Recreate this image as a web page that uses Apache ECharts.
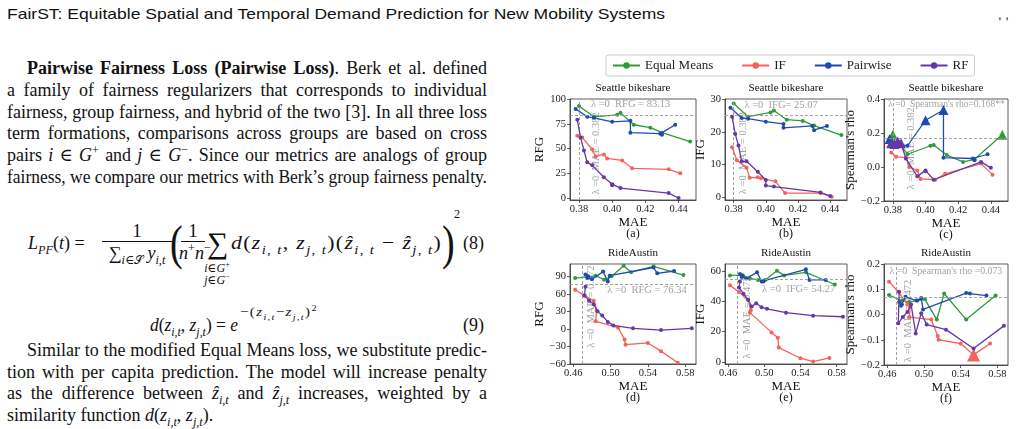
<!DOCTYPE html>
<html>
<head>
<meta charset="utf-8">
<script src="https://cdn.jsdelivr.net/npm/echarts/dist/echarts.min.js"></script>
<style>
  body { margin: 0; width: 1017px; height: 429px; background: #fff; overflow: hidden; position: relative; color: #111; }
  .t { position: absolute; white-space: nowrap; font-family: 'Liberation Serif', 'DejaVu Serif', serif; font-size: 18px; line-height: 22px; }
  .m { position: absolute; white-space: nowrap; font-family: 'Liberation Serif', 'DejaVu Serif', serif; font-size: 18px; line-height: 20px; }
  .s { font-size: 12px; line-height: 14px; }
  sub, sup { font-size: 0.68em; line-height: 0; }
  .bar { position: absolute; height: 1px; background: #111; }
  .paren { font-size: 38px !important; line-height: 40px !important; transform: scaleY(1.3); transform-origin: center; }
  #head { position: absolute; left: 7px; top: 5px; font-family: 'Liberation Sans', sans-serif; font-size: 15px; line-height: 18px; white-space: nowrap; }
  #chart { position: absolute; left: 530px; top: 40px; width: 487px; height: 389px; }
</style>
</head>
<body>
<div id="head" data-w="658" data-f="sc">FairST: Equitable Spatial and Temporal Demand Prediction for New Mobility Systems</div>
<div class="t" style="left:998px;top:4px;font-family:'Liberation Sans';font-size:13px">, ,</div>

<div class="t" style="left:27px;top:57px" data-w="460" data-f="j"><b>Pairwise Fairness Loss (Pairwise Loss)</b>. Berk et al. defined</div>
<div class="t" style="left:7px;top:79px" data-w="480" data-f="j">a family of fairness regularizers that corresponds to individual</div>
<div class="t" style="left:7px;top:101px" data-w="480" data-f="j">fairness, group fairness, and hybrid of the two [3]. In all three loss</div>
<div class="t" style="left:7px;top:122px" data-w="480" data-f="j">term formations, comparisons across groups are based on cross</div>
<div class="t" style="left:7px;top:144px" data-w="480" data-f="j">pairs <i>i</i> ∈ <i>G</i><sup>+</sup> and <i>j</i> ∈ <i>G</i><sup>−</sup>. Since our metrics are analogs of group</div>
<div class="t" style="left:7px;top:166px" data-w="480" data-f="j">fairness, we compare our metrics with Berk’s group fairness penalty.</div>

<!-- equation (8) -->
<div class="m" style="left:28px;top:233px"><i>L</i><sub><i>PF</i></sub>(<i>t</i>) =</div>
<div class="m" style="left:102px;top:221px;width:70px;text-align:center">1</div>
<div class="bar" style="left:102px;top:241px;width:70px"></div>
<div class="m" style="left:102px;top:243px;width:70px;text-align:center">∑<sub><i>i</i>∈𝒮</sub> <i>y</i><sub><i>i,t</i></sub></div>
<div class="m paren" style="left:170px;top:222px">(</div>
<div class="m" style="left:182px;top:221px;width:22px;text-align:center">1</div>
<div class="bar" style="left:181px;top:241px;width:24px"></div>
<div class="m" style="left:179px;top:243px;width:28px;text-align:center"><i>n</i><sup>+</sup><i>n</i><sup>−</sup></div>
<div class="m" style="left:207px;top:226px;font-size:30px;line-height:34px">∑</div>
<div class="m s" style="left:201px;top:261px;width:32px;text-align:center"><i>i</i>∈<i>G</i><sup>+</sup></div>
<div class="m s" style="left:201px;top:273px;width:32px;text-align:center"><i>j</i>∈<i>G</i><sup>−</sup></div>
<div class="m" style="left:231px;top:233px;font-size:19px" data-w="211" data-f="m"><i>d</i>(<i>z</i><sub><i>i</i>, <i>t</i></sub>, <i>z</i><sub><i>j</i>, <i>t</i></sub>)(<i>ẑ</i><sub><i>i</i>, <i>t</i></sub> − <i>ẑ</i><sub><i>j</i>, <i>t</i></sub>)</div>
<div class="m paren" style="left:442px;top:222px">)</div>
<div class="m s" style="left:454px;top:207px">2</div>
<div class="m" style="left:463px;top:233px">(8)</div>

<!-- equation (9) -->
<div class="m" style="left:150px;top:315px" data-w="88" data-f="m"><i>d</i>(<i>z</i><sub><i>i,t</i></sub>, <i>z</i><sub><i>j,t</i></sub>) = <i>e</i></div>
<div class="m s" style="left:240px;top:305px;font-size:13px" data-w="90" data-f="m">−(<i>z</i><sub><i>i,t</i></sub>−<i>z</i><sub><i>j,t</i></sub>)<sup>2</sup></div>
<div class="m" style="left:463px;top:315px">(9)</div>

<div class="t" style="left:27px;top:339px" data-w="460" data-f="j">Similar to the modified Equal Means loss, we substitute predic-</div>
<div class="t" style="left:7px;top:361px" data-w="480" data-f="j">tion with per capita prediction. The model will increase penalty</div>
<div class="t" style="left:7px;top:382px" data-w="480" data-f="j">as the difference between <i>ẑ</i><sub><i>i,t</i></sub> and <i>ẑ</i><sub><i>j,t</i></sub> increases, weighted by a</div>
<div class="t" style="left:7px;top:404px">similarity function <i>d</i>(<i>z</i><sub><i>i,t</i></sub>, <i>z</i><sub><i>j,t</i></sub>).</div>

<div id="chart"></div>

<script>
// ---- text fitting: justify paragraph lines, scale the running head, spread the math a little ----
document.querySelectorAll('[data-w]').forEach(el => {
  const w = +el.dataset.w
  const mode = el.dataset.f
  let nat = el.getBoundingClientRect().width
  el.style.transformOrigin = 'left center'
  if (mode === 'j' && nat < w) {
    const spaces = (el.textContent.match(/ /g) || []).length
    if (spaces) el.style.wordSpacing = ((w - nat) / spaces) + 'px'
    return
  }
  if (mode === 'm' && nat < w) {
    el.style.letterSpacing = Math.min(1.2, (w - nat) / el.textContent.length) + 'px'
    nat = el.getBoundingClientRect().width
  }
  const k = mode === 'sc' ? w / nat : Math.max(0.85, Math.min(1.15, w / nat))
  el.style.transform = 'scaleX(' + k + ')'
})

// ---- data ----
// Seattle bikeshare: MAE of each model, and its RFG / IFG / Spearman's rho
const seaEqMAE = [0.380, 0.389, 0.403, 0.405, 0.413, 0.423, 0.430, 0.447]
const seaEqRFG = [93, 82, 84, 86, 74, 71, 66, 57]
const seaEqIFG = [28.6, 24.6, 25.9, 26.5, 23.7, 23.3, 21.9, 19.0]
const seaEqRho = [0.19, 0.075, 0.125, 0.13, 0.07, 0.03, 0.045, 0.19]
const seaEqSig = [1, 0, 0, 0, 0, 0, 0, 1]

const seaIfMAE = [0.379, 0.382, 0.388, 0.390, 0.395, 0.397, 0.406, 0.412, 0.434, 0.441]
const seaIfRFG = [63, 61, 49, 42, 44, 40, 38, 30, 29, 25]
const seaIfIFG = [15.3, 11.3, 9.0, 6.0, 6.1, 5.8, 4.9, 1.3, 1.3, 0.2]
const seaIfRho = [0.085, 0.06, 0.055, 0.0, -0.02, -0.07, -0.075, -0.04, 0.02, -0.045]

const seaPwMAE = [0.378, 0.385, 0.389, 0.400, 0.411, 0.411, 0.429, 0.430, 0.438]
const seaPwRFG = [90, 82, 81, 77, 78, 66, 65, 64, 74]
const seaPwIFG = [27.3, 24.2, 24.0, 23.1, 22.4, 21.2, 21.8, 20.5, 21.8]
const seaPwRho = [0.165, 0.13, 0.125, 0.275, 0.335, 0.055, 0.05, 0.04, 0.075]
const seaPwSig = [1, 0, 0, 1, 1, 0, 0, 0, 0]

const seaRfMAE = [0.379, 0.381, 0.383, 0.385, 0.388, 0.395, 0.400, 0.400, 0.405, 0.434, 0.440]
const seaRfRFG = [79, 61, 48, 36, 33, 21, 14, 13, 10, 5, 0]
const seaRfIFG = [24.6, 19.3, 15.8, 11.0, 11.0, 7.8, 5.3, 3.6, 3.3, 1.5, 0.4]
const seaRfRho = [0.14, 0.135, 0.15, 0.14, 0.05, -0.055, -0.02, -0.025, -0.075, 0.03, -0.005]
const seaRfSig = [1, 1, 1, 1, 0, 0, 0, 0, 0, 0, 0]

// RideAustin
const ausEqMAE = [0.462, 0.476, 0.484, 0.493, 0.501, 0.514, 0.522, 0.546, 0.578]
const ausEqRFG = [87, 89, 91, 84, 90, 108, 97, 107, 92]
const ausEqIFG = [57, 57, 55, 54, 54, 60, 57, 59, 51]
const ausEqRho = [0.077, 0.055, 0.05, 0.055, 0.06, -0.02, 0.083, -0.02, 0.075]

const ausIfMAE = [0.462, 0.472, 0.482, 0.485, 0.484, 0.508, 0.515, 0.516, 0.540, 0.554, 0.572]
const ausIfRFG = [67, 57, 48, 31, 13, 2, -18, -27, -24, -38, -58]
const ausIfIFG = [50.5, 46, 41, 34, 32.5, 19.5, 16, 9.5, 2.5, 0.3, 2.7]
const ausIfRho = [0.13, 0.09, 0.04, 0.03, -0.01, -0.02, -0.085, -0.1, -0.115, -0.16, -0.115]
const ausIfSig = [0, 0, 0, 0, 0, 0, 0, 0, 0, 1, 0]

const ausPwMAE = [0.473, 0.475, 0.476, 0.480, 0.492, 0.497, 0.499, 0.546, 0.550, 0.568]
const ausPwRFG = [93, 87, 90, 85, 98, 81, 91, 105, 95, 99]
const ausPwIFG = [58, 56, 57, 55, 59, 53, 53, 61, 54, 54]
const ausPwRho = [0.05, 0.035, 0.04, 0.07, 0.055, 0.065, 0.02, 0.085, 0.083, 0.075]

const ausRfMAE = [0.473, 0.472, 0.477, 0.482, 0.486, 0.491, 0.497, 0.503, 0.524, 0.554, 0.587]
const ausRfRFG = [72, 57, 48, 42, 30, 23, 12, 6, 1, -2, 1]
const ausRfIFG = [53, 49, 45, 41, 36.5, 38.6, 36, 35, 32.5, 30.5, 29.8]
const ausRfRho = [0.09, -0.035, -0.01, 0.01, 0.04, -0.075, 0.005, -0.04, -0.06, -0.135, -0.045]

// lambda = 0 baselines: MAE, RFG, IFG, rho
const seaBase = [0.382, 83.13, 25.07, 0.168]
const ausBase = [0.472, 76.34, 54.27, 0.073]

// tick labels
const seaMaeTicks = [0.38, 0.40, 0.42, 0.44]
const ausMaeTicks = [0.46, 0.50, 0.54, 0.58]
const seaRfgTicks = [0, 25, 50, 75, 100]
const seaIfgTicks = [0, 10, 20, 30]
const seaRhoTicks = [-0.2, 0.0, 0.2, 0.4]
const ausRfgTicks = [-60, -30, 0, 30, 60, 90]
const ausIfgTicks = [0, 20, 40, 60]
const ausRhoTicks = [-0.2, -0.1, 0.0, 0.1, 0.2]

const methods = ['Equal Means', 'IF', 'Pairwise', 'RF']
const colors = ['#2f9a3a', '#f4625a', '#1f4bb0', '#6438a6']

// ---- chart ----
const FONT = "'Liberation Serif', 'DejaVu Serif', serif"
const minus = (v, d) => (v < 0 ? '\u2212' : '') + Math.abs(v).toFixed(d)

const panels = [
  { grid: [40, 59, 126, 101], xr: [0.3746, 0.4505], yr: [-2, 100], xt: seaMaeTicks, yt: seaRfgTicks, yd: 0, yname: 'RFG', ygap: 22,
    title: 'Seattle bikeshare', cap: '(a)', base: seaBase, ref: seaBase[1], fs: 10.5,
    lines: [[seaEqMAE, seaEqRFG], [seaIfMAE, seaIfRFG], [seaPwMAE, seaPwRFG], [seaRfMAE, seaRfRFG]],
    htxt: 'λ =0  RFG = ' + seaBase[1].toFixed(2), hpos: [0.3875, 94], vpos: [0.391, 3] },
  { grid: [195, 59, 122, 101], xr: [0.3746, 0.4505], yr: [-0.8, 30], xt: seaMaeTicks, yt: seaIfgTicks, yd: 0, yname: 'IFG', ygap: 15,
    title: 'Seattle bikeshare', cap: '(b)', base: seaBase, ref: seaBase[2], fs: 10.5,
    lines: [[seaEqMAE, seaEqIFG], [seaIfMAE, seaIfIFG], [seaPwMAE, seaPwIFG], [seaRfMAE, seaRfIFG]],
    htxt: 'λ =0  IFG= ' + seaBase[2].toFixed(2), hpos: [0.387, 27.8], vpos: [0.3865, 0.8] },
  { grid: [354, 59, 124, 102], xr: [0.3746, 0.4505], yr: [-0.2, 0.4], xt: seaMaeTicks, yt: seaRhoTicks, yd: 1, yname: "Spearman's rho", ygap: 21,
    title: 'Seattle bikeshare', cap: '(c)', base: seaBase, ref: seaBase[3], fs: 9.5,
    lines: [[seaEqMAE, seaEqRho, seaEqSig], [seaIfMAE, seaIfRho], [seaPwMAE, seaPwRho, seaPwSig], [seaRfMAE, seaRfRho, seaRfSig]],
    htxt: "λ =0  Spearman's rho=" + seaBase[3].toFixed(3) + '**', hpos: [0.3775, 0.365], vpos: [0.3915, -0.135] },
  { grid: [40, 224, 126, 100], xr: [0.4565, 0.5915], yr: [-60, 111], xt: ausMaeTicks, yt: ausRfgTicks, yd: 0, yname: 'RFG', ygap: 20,
    title: 'RideAustin', cap: '(d)', base: ausBase, ref: ausBase[1], fs: 10.5,
    lines: [[ausEqMAE, ausEqRFG], [ausIfMAE, ausIfRFG], [ausPwMAE, ausPwRFG], [ausRfMAE, ausRfRFG]],
    htxt: 'λ =0  RFG = ' + ausBase[1].toFixed(2), hpos: [0.497, 66], vpos: [0.4797, -33] },
  { grid: [195, 224, 122, 100], xr: [0.4565, 0.5915], yr: [-1.3, 64.5], xt: ausMaeTicks, yt: ausIfgTicks, yd: 0, yname: 'IFG', ygap: 16,
    title: 'RideAustin', cap: '(e)', base: ausBase, ref: ausBase[2], fs: 10.5,
    lines: [[ausEqMAE, ausEqIFG], [ausIfMAE, ausIfIFG], [ausPwMAE, ausPwIFG], [ausRfMAE, ausRfIFG]],
    htxt: 'λ =0  IFG= ' + ausBase[2].toFixed(2), hpos: [0.498, 47.7], vpos: [0.482, 2] },
  { grid: [354, 224, 124, 101], xr: [0.4565, 0.5915], yr: [-0.2, 0.2], xt: ausMaeTicks, yt: ausRhoTicks, yd: 1, yname: "Spearman's rho", ygap: 22,
    title: 'RideAustin', cap: '(f)', base: ausBase, ref: ausBase[3], fs: 9.8,
    lines: [[ausEqMAE, ausEqRho], [ausIfMAE, ausIfRho, ausIfSig], [ausPwMAE, ausPwRho], [ausRfMAE, ausRfRho]],
    htxt: "λ =0  Spearman's rho =" + ausBase[3].toFixed(3), hpos: [0.463, 0.168], vpos: [0.483, -0.19] }
]

const grid = [], xAxis = [], yAxis = [], series = [], graphic = []
const axisLine = { show: true, onZero: false, lineStyle: { color: '#333', width: 0.8 } }
const tickStyle = { color: '#333', width: 0.8 }

panels.forEach((p, gi) => {
  const [l, t, w, h] = p.grid
  grid.push({ left: l, top: t, width: w, height: h, show: true, borderColor: '#333', borderWidth: 0.8 })
  xAxis.push({
    type: 'value', gridIndex: gi, min: p.xr[0], max: p.xr[1],
    axisLine, splitLine: { show: false },
    axisTick: { show: true, length: 3, customValues: p.xt, lineStyle: tickStyle },
    axisLabel: { customValues: p.xt, formatter: v => v.toFixed(2), fontFamily: FONT, fontSize: 10.5, color: '#222', margin: 4 },
    name: 'MAE', nameLocation: 'middle', nameGap: 15,
    nameTextStyle: { fontFamily: FONT, fontSize: 13, color: '#111' }
  })
  yAxis.push({
    type: 'value', gridIndex: gi, min: p.yr[0], max: p.yr[1],
    axisLine, splitLine: { show: false },
    axisTick: { show: true, length: 3, customValues: p.yt, lineStyle: tickStyle },
    axisLabel: { customValues: p.yt, formatter: v => minus(v, p.yd), fontFamily: FONT, fontSize: 10.5, color: '#222', margin: 4 },
    name: p.yname, nameLocation: 'middle', nameGap: p.ygap,
    nameTextStyle: { fontFamily: FONT, fontSize: 13, color: '#111' }
  })

  // reference lines and the lambda=0 notes
  series.push({
    name: 'note' + gi, type: 'scatter', xAxisIndex: gi, yAxisIndex: gi, silent: true, z: 1,
    symbolSize: 1, itemStyle: { color: 'rgba(0,0,0,0)' },
    label: { show: true, position: [0, 0], align: 'left', verticalAlign: 'middle', formatter: '{b}',
      fontFamily: FONT, fontSize: p.fs, color: '#8a8a8a' },
    data: [
      { name: p.htxt, value: p.hpos },
      { name: 'λ =0  MAE = ' + p.base[0].toFixed(3), value: p.vpos, label: { rotate: 90, fontSize: 10.5 } }
    ],
    markLine: {
      silent: true, symbol: 'none', animation: false,
      lineStyle: { type: [3, 2], color: '#999', width: 0.9 },
      label: { show: false },
      data: [{ xAxis: p.base[0] }, { yAxis: p.ref }]
    }
  })

  p.lines.forEach(([xs, ys, sig], mi) => {
    const big = gi === 5 ? 13 : 10
    series.push({
      name: methods[mi], type: 'line', xAxisIndex: gi, yAxisIndex: gi, z: 2 + mi,
      symbol: 'circle', symbolSize: 4, animation: false,
      lineStyle: { width: 1.3, color: colors[mi] }, itemStyle: { color: colors[mi] },
      data: xs.map((x, i) => sig && sig[i]
        ? { value: [x, ys[i]], symbol: 'triangle', symbolSize: big }
        : [x, ys[i]])
    })
  })

  const cx = l + w / 2
  graphic.push({ type: 'text', x: cx, y: t - 11, style: { text: p.title, font: '11px ' + FONT, fill: '#111', align: 'center', verticalAlign: 'middle' } })
  graphic.push({ type: 'text', x: cx, y: t + h + 34, style: { text: p.cap, font: '12px ' + FONT, fill: '#111', align: 'center', verticalAlign: 'middle' } })
})

const chart = echarts.init(document.getElementById('chart'))
chart.setOption({
  animation: false,
  legend: {
    data: methods, left: 76, top: 15, itemWidth: 27, itemHeight: 8, itemGap: 28,
    padding: [4, 6], borderColor: '#ccc', borderWidth: 1, borderRadius: 2,
    textStyle: { fontFamily: FONT, fontSize: 13, color: '#222' }
  },
  grid, xAxis, yAxis, series, graphic
})
</script>
</body>
</html>
